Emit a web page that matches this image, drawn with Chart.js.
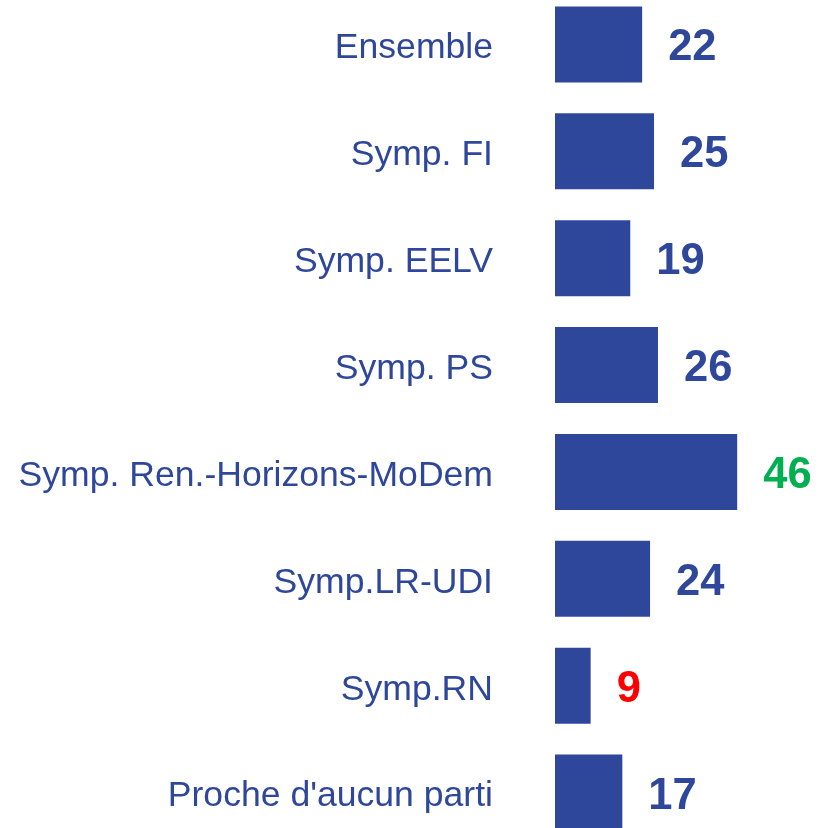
<!DOCTYPE html>
<html>
<head>
<meta charset="utf-8">
<script src="https://cdn.jsdelivr.net/npm/chart.js@4"></script>
<style>
  html, body { margin: 0; padding: 0; background: #fff; overflow: hidden; }
  #wrap { position: absolute; left: 0; top: -9px; width: 818px; height: 855px; }
</style>
</head>
<body>
<div id="wrap"><canvas id="chart"></canvas></div>
<script>
// categories and values
const categories = [
    'Ensemble',
    'Symp. FI',
    'Symp. EELV',
    'Symp. PS',
    'Symp. Ren.-Horizons-MoDem',
    'Symp.LR-UDI',
    'Symp.RN',
    "Proche d'aucun parti"
];
const values = [22, 25, 19, 26, 46, 24, 9, 17];
const valueColors = ['#2E479B', '#2E479B', '#2E479B', '#2E479B', '#00B050', '#2E479B', '#FF0000', '#2E479B'];

const BLUE = '#2E479B';
const FONT = '"Liberation Sans", Arial, sans-serif';

// category labels left of the bars, values right of the bars
const barLabels = {
    id: 'barLabels',
    afterDatasetsDraw(chart) {
        const ctx = chart.ctx;
        const meta = chart.getDatasetMeta(0);
        const left = chart.chartArea.left;
        ctx.save();
        ctx.textBaseline = 'middle';
        meta.data.forEach((bar, i) => {
            ctx.font = '35.6px ' + FONT;
            ctx.textAlign = 'right';
            ctx.fillStyle = BLUE;
            ctx.fillText(categories[i], left - 62, bar.y + 4);

            ctx.font = 'bold 43.5px ' + FONT;
            ctx.textAlign = 'left';
            ctx.fillStyle = valueColors[i];
            ctx.fillText(String(values[i]), bar.x + 26, bar.y + 4);
        });
        ctx.restore();
    }
};

new Chart(document.getElementById('chart'), {
    type: 'bar',
    data: {
        labels: categories,
        datasets: [{
            data: values,
            backgroundColor: BLUE,
            barPercentage: 1,
            categoryPercentage: 0.711
        }]
    },
    options: {
        indexAxis: 'y',
        responsive: true,
        maintainAspectRatio: false,
        animation: false,
        layout: { padding: 0 },
        scales: {
            x: {
                display: false,
                min: 0,
                max: 66.4
            },
            y: {
                grid: { display: false, drawTicks: false },
                border: { display: false },
                ticks: { display: false },
                afterFit(scale) { scale.width = 555; }
            }
        },
        plugins: {
            legend: { display: false },
            tooltip: { enabled: false }
        }
    },
    plugins: [barLabels]
});
</script>
</body>
</html>
